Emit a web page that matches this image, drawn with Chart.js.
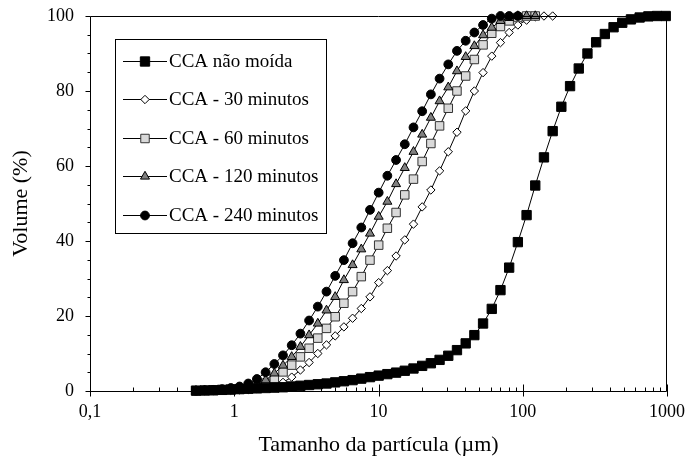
<!DOCTYPE html>
<html>
<head>
<meta charset="utf-8">
<script src="https://cdn.jsdelivr.net/npm/chart.js"></script>
<style>
  html, body { margin: 0; padding: 0; background: #fff; }
  canvas { display: block; }
</style>
</head>
<body>
<canvas id="chart" width="690" height="468"></canvas>
<script>
// Particle size grid (µm), shared by all curves
const sizes = [0.543, 0.624, 0.717, 0.824, 0.947, 1.088, 1.25, 1.436, 1.65, 1.896,
  2.178, 2.502, 2.875, 3.303, 3.795, 4.36, 5.01, 5.756, 6.613, 7.598,
  8.73, 10.03, 11.52, 13.24, 15.21, 17.48, 20.08, 23.07, 26.51, 30.46,
  34.99, 40.21, 46.19, 53.07, 60.98, 70.06, 80.5, 92.49, 106.3, 122.1,
  140.3, 161.2, 185.2, 212.8, 244.5, 280.9, 322.7, 370.8, 426.1, 489.5,
  562.3, 646.1, 742.3, 852.9, 979.9];

// Cumulative volume (%)
const naoMoida = [0.1, 0.15, 0.2, 0.3, 0.4, 0.5, 0.6, 0.7, 0.8, 0.9,
  1.0, 1.2, 1.4, 1.6, 1.8, 2.0, 2.3, 2.6, 2.9, 3.3,
  3.7, 4.1, 4.5, 4.9, 5.4, 6.0, 6.7, 7.4, 8.3, 9.4,
  10.9, 12.7, 14.9, 18.0, 21.9, 26.9, 32.9, 39.7, 46.9, 54.8,
  62.3, 69.3, 75.8, 81.3, 86.0, 90.0, 93.0, 95.2, 97.0, 98.2,
  99.1, 99.6, 99.9, 100, 100];
const min30 = [0, 0.05, 0.1, 0.15, 0.2, 0.3, 0.4, 0.6, 1.0, 1.5,
  2.3, 3.7, 5.6, 7.6, 10.0, 12.3, 14.7, 17.1, 19.4, 22.0,
  25.1, 28.9, 32.1, 36.0, 40.3, 44.5, 49.1, 53.6, 58.7, 63.8,
  69.0, 74.7, 80.0, 84.9, 89.3, 92.9, 95.6, 97.6, 98.9, 99.8,
  100, 100];
const min60 = [0.05, 0.1, 0.15, 0.2, 0.3, 0.5, 0.7, 1.1, 2.1, 3.4,
  5.1, 6.9, 9.1, 11.4, 14.1, 16.7, 19.8, 23.4, 26.5, 30.5,
  34.9, 38.9, 43.4, 47.6, 52.3, 56.5, 61.2, 66.0, 70.7, 75.4,
  80.0, 84.0, 88.4, 92.3, 95.4, 97.2, 98.7, 99.6, 100, 100];
const min120 = [0.05, 0.1, 0.15, 0.2, 0.3, 0.45, 0.8, 1.6, 2.9, 4.7,
  6.8, 9.1, 11.8, 14.9, 18.0, 21.5, 25.1, 29.6, 33.6, 37.8,
  42.0, 46.5, 50.5, 55.2, 59.5, 63.8, 68.4, 72.9, 77.3, 81.0,
  85.3, 89.1, 92.0, 94.9, 96.9, 98.7, 99.5, 100, 100, 100];
const min240 = [0.1, 0.2, 0.3, 0.5, 0.8, 1.2, 2.0, 3.2, 5.0, 7.2,
  9.5, 12.2, 15.3, 18.8, 22.5, 26.5, 30.7, 34.9, 39.4, 43.6,
  48.3, 52.9, 57.4, 61.6, 65.8, 70.3, 74.6, 79.1, 83.3, 87.1,
  90.7, 93.4, 95.6, 97.6, 99.3, 100, 100, 100];

const seriesLabels = ['CCA não moída', 'CCA - 30 minutos', 'CCA - 60 minutos', 'CCA - 120 minutos', 'CCA - 240 minutos'];
const xTicks = [0.1, 1, 10, 100, 1000];
const xTickLabels = ['0,1', '1', '10', '100', '1000'];
const yTicks = [0, 20, 40, 60, 80, 100];

const FONT = "'Liberation Serif', 'Times New Roman', serif";

function pairs(vals) {
  return vals.map((v, i) => ({x: sizes[i], y: v}));
}

function series(label, vals, style, radius, fill, stroke, order) {
  return {
    label: label,
    data: pairs(vals),
    borderColor: '#000',
    borderWidth: 1,
    pointStyle: style,
    pointRadius: radius,
    pointBackgroundColor: fill,
    pointBorderColor: stroke,
    pointBorderWidth: 1,
    tension: 0,
    clip: false,
    order: order
  };
}

// axis frame, ticks and the boxed legend inside the plot
const decorPlugin = {
  id: 'decor',
  afterDatasetsDraw(chart) {
    const {ctx, chartArea: a, scales: {x, y}} = chart;
    ctx.save();
    ctx.lineWidth = 1;
    ctx.strokeStyle = '#000';
    const L = Math.round(a.left) + 0.5, R = Math.round(a.right) - 0.5;
    const T = Math.round(a.top) + 0.5, B = Math.round(a.bottom) + 0.5;
    ctx.beginPath();
    ctx.moveTo(L, T); ctx.lineTo(R, T); ctx.lineTo(R, B); ctx.lineTo(L, B); ctx.closePath();
    ctx.stroke();

    ctx.beginPath();
    // x ticks (log)
    for (let d = 0.1; d <= 1000; d *= 10) {
      for (let m = 1; m <= 9; m++) {
        const v = d * m;
        if (v > 1000.01) break;
        const px = Math.round(x.getPixelForValue(v)) + 0.5;
        const major = m === 1;
        ctx.moveTo(px, B + (major ? 5 : 0));
        ctx.lineTo(px, B - (major ? 7 : 4));
      }
    }
    // y ticks
    for (let v = 0; v <= 100; v += 5) {
      const py = Math.round(y.getPixelForValue(v)) + 0.5;
      ctx.moveTo(L, py);
      ctx.lineTo(L - (v % 20 === 0 ? 5 : 3), py);
    }
    ctx.stroke();

    // legend
    const bx = 115.5, by = 39.5, bw = 211, bh = 194;
    ctx.fillStyle = '#fff';
    ctx.fillRect(bx, by, bw, bh);
    ctx.strokeRect(bx, by, bw, bh);
    ctx.font = '19px ' + FONT;
    ctx.textBaseline = 'middle';
    ctx.textAlign = 'left';
    chart.data.datasets.forEach((ds, i) => {
      const cy = 61 + i * 38.4;
      ctx.strokeStyle = '#000';
      ctx.beginPath();
      ctx.moveTo(123, Math.round(cy) + 0.5);
      ctx.lineTo(167, Math.round(cy) + 0.5);
      ctx.stroke();
      ctx.fillStyle = ds.pointBackgroundColor;
      ctx.strokeStyle = ds.pointBorderColor;
      Chart.helpers.drawPoint(ctx, {
        pointStyle: ds.pointStyle, radius: ds.pointRadius, borderWidth: 1, rotation: 0
      }, 145, Math.round(cy) + 0.5);
      ctx.fillStyle = '#000';
      ctx.fillText(ds.label, 169, cy + 1);
    });
    ctx.restore();
  }
};

new Chart(document.getElementById('chart'), {
  type: 'line',
  data: {
    datasets: [
      series(seriesLabels[0], naoMoida, 'rect', 6.6, '#000', '#000', 0),
      series(seriesLabels[1], min30, 'rectRot', 4.2, '#fff', '#000', 4),
      series(seriesLabels[2], min60, 'rect', 6.0, '#d9d9d9', '#333', 3),
      series(seriesLabels[3], min120, 'triangle', 5.2, '#808080', '#000', 2),
      series(seriesLabels[4], min240, 'circle', 4.4, '#000', '#000', 1)
    ]
  },
  options: {
    responsive: false,
    devicePixelRatio: 1,
    animation: false,
    layout: {padding: {top: 16, right: 23, left: 0, bottom: 0}},
    plugins: {legend: {display: false}, tooltip: {enabled: false}},
    scales: {
      x: {
        type: 'logarithmic',
        min: 0.1,
        max: 1000,
        grid: {display: false, drawTicks: false},
        border: {display: false},
        afterBuildTicks: s => { s.ticks = xTicks.map(v => ({value: v})); },
        afterFit: s => { s.height = 77; s.paddingLeft = 0; s.paddingRight = 0; },
        ticks: {
          autoSkip: false,
          maxRotation: 0,
          padding: 10,
          color: '#000',
          font: {family: FONT, size: 18},
          callback: (v) => {
            const i = xTicks.findIndex(t => Math.abs(t - v) < 1e-9);
            return i >= 0 ? xTickLabels[i] : null;
          }
        },
        title: {
          display: true,
          text: 'Tamanho da partícula (µm)',
          color: '#000',
          font: {family: FONT, size: 22},
          padding: {top: 0, bottom: 10}
        }
      },
      y: {
        min: 0,
        max: 100,
        grid: {display: false, drawTicks: false},
        border: {display: false},
        afterBuildTicks: s => { s.ticks = yTicks.map(v => ({value: v})); },
        afterFit: s => { s.width = 90; s.paddingTop = 0; s.paddingBottom = 0; },
        ticks: {
          padding: 16,
          color: '#000',
          font: {family: FONT, size: 18}
        },
        title: {
          display: true,
          text: 'Volume (%)',
          color: '#000',
          font: {family: FONT, size: 22},
          padding: {top: 8, bottom: 0}
        }
      }
    }
  },
  plugins: [decorPlugin]
});
</script>
</body>
</html>
